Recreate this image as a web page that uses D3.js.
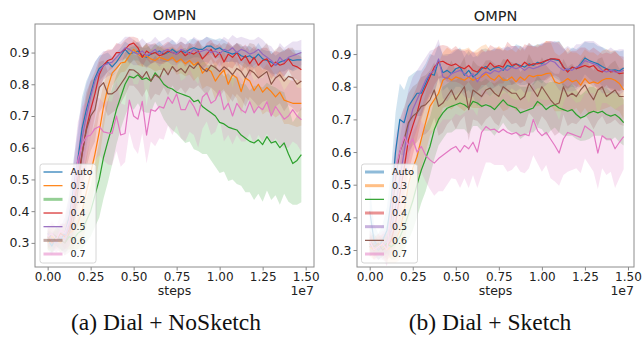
<!DOCTYPE html>
<html>
<head>
<meta charset="utf-8">
<script src="https://cdn.jsdelivr.net/npm/d3@7"></script>
<style>
body { margin: 0; background: #fff; }
svg { display: block; font-family: 'DejaVu Sans', sans-serif; }
</style>
</head>
<body>
<div id="chart"></div>
<script>
// steps, in units of 1e7
var steps = [0,0.025,0.05,0.075,0.1,0.125,0.15,0.175,0.2,0.225,
	0.25,0.275,0.3,0.325,0.35,0.375,0.4,0.425,0.45,0.475,
	0.5,0.525,0.55,0.575,0.6,0.625,0.65,0.675,0.7,0.725,
	0.75,0.775,0.8,0.825,0.85,0.875,0.9,0.925,0.95,0.975,
	1,1.025,1.05,1.075,1.1,1.125,1.15,1.175,1.2,1.225,
	1.25,1.275,1.3,1.325,1.35,1.375,1.4,1.425,1.45,1.475];

var labels = ['Auto', '0.3', '0.2', '0.4', '0.5', '0.6', '0.7'];
var xTicks = [0, 0.25, 0.5, 0.75, 1, 1.25, 1.5];
var yTicks = [0.3, 0.4, 0.5, 0.6, 0.7, 0.8, 0.9];
var captions = ['(a) Dial + NoSketch', '(b) Dial + Sketch'];

// ---- (a) NoSketch : mean curves ----
var autoL = [0.31,0.29,0.32,0.31,0.33,0.38,0.47,0.56,0.66,0.72,
	0.77,0.82,0.85,0.86,0.87,0.855,0.87,0.89,0.91,0.895,
	0.90,0.905,0.89,0.885,0.895,0.90,0.905,0.895,0.90,0.91,
	0.90,0.905,0.90,0.91,0.915,0.91,0.91,0.92,0.92,0.91,
	0.915,0.905,0.90,0.895,0.90,0.89,0.885,0.89,0.88,0.895,
	0.88,0.875,0.87,0.86,0.87,0.875,0.88,0.875,0.877,0.877];
var r03L = [0.30,0.32,0.31,0.30,0.32,0.33,0.34,0.36,0.40,0.46,
	0.52,0.58,0.65,0.73,0.79,0.835,0.85,0.867,0.87,0.89,
	0.91,0.895,0.885,0.89,0.88,0.875,0.885,0.88,0.875,0.885,
	0.87,0.88,0.865,0.875,0.86,0.87,0.835,0.85,0.84,0.81,
	0.83,0.845,0.80,0.83,0.82,0.777,0.82,0.81,0.78,0.80,
	0.775,0.79,0.777,0.76,0.775,0.75,0.745,0.74,0.74,0.74];
var r02L = [0.31,0.30,0.32,0.31,0.30,0.32,0.31,0.33,0.34,0.37,
	0.40,0.45,0.50,0.57,0.62,0.667,0.72,0.76,0.80,0.825,
	0.82,0.83,0.815,0.82,0.81,0.836,0.82,0.80,0.79,0.785,
	0.775,0.77,0.765,0.76,0.745,0.75,0.73,0.72,0.71,0.70,
	0.68,0.675,0.665,0.66,0.656,0.64,0.63,0.62,0.615,0.625,
	0.61,0.635,0.615,0.62,0.60,0.615,0.58,0.55,0.56,0.578];
var r04L = [0.32,0.30,0.31,0.33,0.32,0.34,0.40,0.50,0.58,0.66,
	0.72,0.77,0.83,0.86,0.875,0.88,0.90,0.90,0.91,0.925,
	0.93,0.915,0.885,0.905,0.895,0.90,0.89,0.895,0.905,0.90,
	0.895,0.905,0.89,0.90,0.895,0.905,0.88,0.895,0.91,0.885,
	0.90,0.87,0.895,0.885,0.90,0.875,0.89,0.865,0.885,0.86,
	0.875,0.88,0.855,0.87,0.86,0.865,0.88,0.86,0.855,0.846];
var r05L = [0.33,0.31,0.30,0.32,0.31,0.36,0.44,0.53,0.63,0.70,
	0.76,0.81,0.84,0.86,0.865,0.87,0.885,0.90,0.915,0.91,
	0.90,0.895,0.905,0.89,0.90,0.91,0.895,0.905,0.91,0.90,
	0.895,0.91,0.905,0.895,0.91,0.90,0.905,0.91,0.90,0.905,
	0.895,0.91,0.905,0.915,0.90,0.91,0.905,0.895,0.90,0.91,
	0.895,0.885,0.875,0.86,0.885,0.87,0.885,0.89,0.895,0.90];
var r06L = [0.31,0.33,0.32,0.31,0.30,0.33,0.37,0.46,0.58,0.656,
	0.70,0.72,0.79,0.805,0.77,0.77,0.78,0.80,0.82,0.846,
	0.845,0.835,0.82,0.84,0.81,0.83,0.82,0.85,0.83,0.856,
	0.84,0.85,0.836,0.86,0.85,0.867,0.85,0.84,0.86,0.852,
	0.84,0.855,0.845,0.83,0.85,0.84,0.82,0.845,0.836,0.82,
	0.83,0.84,0.80,0.82,0.83,0.81,0.825,0.82,0.80,0.81];
var r07L = [0.32,0.33,0.31,0.34,0.33,0.37,0.45,0.56,0.61,0.635,
	0.64,0.66,0.667,0.65,0.647,0.645,0.70,0.64,0.645,0.75,
	0.70,0.69,0.746,0.64,0.72,0.715,0.73,0.725,0.76,0.74,
	0.77,0.72,0.72,0.75,0.73,0.70,0.76,0.773,0.74,0.75,
	0.78,0.72,0.74,0.70,0.74,0.72,0.71,0.745,0.71,0.73,
	0.72,0.745,0.70,0.73,0.71,0.69,0.70,0.72,0.70,0.688];

// ---- (a) NoSketch : spread (std) ----
var sdAutoL = [0.03,0.03,0.03,0.04,0.05,0.07,0.09,0.10,0.10,0.09,
	0.07,0.05,0.04,0.035,0.03,0.03,0.03,0.025,0.025,0.03,
	0.025,0.03,0.025,0.03,0.03,0.025,0.03,0.025,0.03,0.03,
	0.025,0.03,0.025,0.03,0.03,0.025,0.03,0.03,0.025,0.03,
	0.03,0.035,0.03,0.025,0.03,0.03,0.035,0.03,0.03,0.035,
	0.03,0.03,0.035,0.03,0.03,0.035,0.03,0.035,0.03,0.03];
var sd03L = [0.03,0.03,0.03,0.03,0.04,0.05,0.06,0.08,0.10,0.11,
	0.11,0.10,0.09,0.07,0.05,0.04,0.035,0.03,0.03,0.03,
	0.03,0.035,0.03,0.035,0.03,0.035,0.04,0.035,0.04,0.035,
	0.04,0.045,0.04,0.045,0.05,0.045,0.05,0.055,0.05,0.06,
	0.055,0.06,0.065,0.06,0.065,0.07,0.06,0.065,0.07,0.065,
	0.07,0.075,0.07,0.065,0.07,0.075,0.07,0.07,0.075,0.07];
var sd02L = [0.03,0.03,0.03,0.03,0.03,0.04,0.04,0.05,0.06,0.07,
	0.08,0.10,0.12,0.13,0.13,0.12,0.11,0.10,0.10,0.09,
	0.10,0.09,0.10,0.11,0.10,0.09,0.10,0.11,0.12,0.13,
	0.13,0.14,0.15,0.14,0.15,0.16,0.15,0.14,0.15,0.16,
	0.16,0.15,0.17,0.16,0.17,0.16,0.17,0.16,0.18,0.17,
	0.18,0.17,0.18,0.17,0.18,0.16,0.15,0.13,0.14,0.15];
var sd04L = [0.03,0.03,0.03,0.03,0.04,0.05,0.07,0.09,0.10,0.10,
	0.09,0.07,0.05,0.04,0.035,0.03,0.03,0.025,0.03,0.025,
	0.02,0.03,0.03,0.025,0.03,0.03,0.025,0.03,0.03,0.025,
	0.03,0.03,0.035,0.03,0.03,0.035,0.03,0.035,0.03,0.035,
	0.03,0.035,0.04,0.035,0.03,0.04,0.035,0.04,0.035,0.04,
	0.04,0.035,0.04,0.035,0.04,0.04,0.035,0.04,0.04,0.04];
var sd05L = [0.03,0.03,0.03,0.04,0.05,0.07,0.10,0.11,0.11,0.10,
	0.08,0.06,0.05,0.045,0.04,0.04,0.04,0.035,0.035,0.04,
	0.04,0.035,0.04,0.04,0.035,0.04,0.04,0.035,0.04,0.04,
	0.035,0.04,0.04,0.035,0.04,0.04,0.035,0.04,0.04,0.035,
	0.04,0.04,0.035,0.04,0.045,0.04,0.04,0.045,0.04,0.04,
	0.045,0.04,0.045,0.04,0.045,0.045,0.04,0.045,0.04,0.04];
var sd06L = [0.03,0.03,0.03,0.03,0.04,0.06,0.09,0.11,0.12,0.12,
	0.11,0.10,0.08,0.07,0.07,0.06,0.06,0.06,0.055,0.05,
	0.05,0.055,0.06,0.055,0.06,0.06,0.055,0.06,0.065,0.06,
	0.065,0.06,0.065,0.07,0.065,0.07,0.07,0.075,0.07,0.075,
	0.08,0.075,0.08,0.085,0.08,0.085,0.09,0.085,0.09,0.09,
	0.085,0.09,0.095,0.09,0.09,0.095,0.09,0.095,0.09,0.09];
var sd07L = [0.03,0.04,0.04,0.05,0.06,0.08,0.10,0.12,0.12,0.11,
	0.10,0.10,0.09,0.09,0.10,0.10,0.11,0.10,0.09,0.10,
	0.10,0.11,0.10,0.09,0.10,0.11,0.10,0.10,0.09,0.10,
	0.10,0.09,0.10,0.10,0.09,0.10,0.10,0.09,0.10,0.10,
	0.09,0.10,0.10,0.09,0.10,0.10,0.09,0.10,0.10,0.09,
	0.10,0.10,0.09,0.10,0.10,0.09,0.10,0.10,0.09,0.10];

// ---- (b) Sketch : mean curves ----
var autoR = [0.42,0.33,0.31,0.33,0.36,0.45,0.60,0.70,0.69,0.74,
	0.76,0.78,0.78,0.81,0.84,0.835,0.88,0.843,0.85,0.84,
	0.855,0.86,0.835,0.85,0.83,0.84,0.855,0.862,0.85,0.858,
	0.86,0.85,0.865,0.86,0.87,0.865,0.86,0.87,0.865,0.875,
	0.87,0.88,0.885,0.883,0.88,0.86,0.85,0.86,0.855,0.87,
	0.888,0.88,0.875,0.87,0.862,0.855,0.85,0.852,0.848,0.857];
var r03R = [0.31,0.30,0.32,0.31,0.30,0.31,0.33,0.36,0.42,0.50,
	0.55,0.586,0.64,0.69,0.74,0.76,0.78,0.82,0.83,0.82,
	0.83,0.825,0.82,0.83,0.82,0.825,0.83,0.84,0.827,0.82,
	0.835,0.82,0.82,0.83,0.815,0.83,0.82,0.835,0.83,0.835,
	0.835,0.84,0.842,0.815,0.81,0.815,0.825,0.815,0.82,0.805,
	0.825,0.81,0.815,0.81,0.82,0.825,0.825,0.82,0.81,0.79];
var r02R = [0.31,0.32,0.30,0.31,0.32,0.31,0.32,0.34,0.37,0.41,
	0.45,0.50,0.545,0.58,0.617,0.668,0.70,0.72,0.734,0.74,
	0.745,0.75,0.745,0.735,0.755,0.75,0.74,0.745,0.74,0.73,
	0.745,0.76,0.745,0.74,0.735,0.72,0.725,0.73,0.735,0.755,
	0.745,0.73,0.74,0.745,0.735,0.73,0.725,0.73,0.715,0.704,
	0.71,0.72,0.725,0.72,0.725,0.715,0.71,0.715,0.705,0.69];
var r04R = [0.32,0.30,0.31,0.32,0.31,0.33,0.38,0.47,0.55,0.637,
	0.68,0.72,0.77,0.80,0.83,0.86,0.875,0.878,0.87,0.865,
	0.87,0.86,0.855,0.865,0.85,0.845,0.86,0.855,0.873,0.86,
	0.865,0.86,0.883,0.865,0.87,0.86,0.875,0.865,0.87,0.87,
	0.875,0.88,0.885,0.885,0.883,0.86,0.845,0.86,0.855,0.86,
	0.865,0.86,0.865,0.85,0.845,0.855,0.845,0.848,0.84,0.842];
var r05R = [0.31,0.32,0.30,0.31,0.33,0.36,0.43,0.52,0.60,0.68,
	0.73,0.76,0.79,0.82,0.84,0.85,0.885,0.83,0.825,0.84,
	0.845,0.85,0.84,0.83,0.84,0.815,0.835,0.845,0.84,0.85,
	0.845,0.855,0.85,0.86,0.855,0.86,0.85,0.86,0.855,0.86,
	0.865,0.87,0.88,0.875,0.86,0.85,0.855,0.85,0.86,0.865,
	0.88,0.875,0.87,0.865,0.85,0.845,0.85,0.845,0.845,0.85];
var r06R = [0.33,0.31,0.32,0.30,0.31,0.40,0.52,0.60,0.637,0.69,
	0.71,0.72,0.74,0.745,0.76,0.79,0.74,0.75,0.77,0.79,
	0.76,0.78,0.80,0.73,0.79,0.78,0.77,0.79,0.796,0.78,
	0.77,0.80,0.79,0.78,0.78,0.76,0.77,0.81,0.79,0.77,
	0.80,0.78,0.76,0.745,0.75,0.80,0.77,0.78,0.77,0.79,
	0.806,0.78,0.76,0.79,0.80,0.77,0.78,0.79,0.77,0.77];
var r07R = [0.33,0.30,0.31,0.32,0.30,0.42,0.55,0.60,0.647,0.62,
	0.64,0.60,0.617,0.59,0.576,0.566,0.58,0.59,0.60,0.61,
	0.617,0.60,0.62,0.61,0.63,0.60,0.66,0.678,0.668,0.67,
	0.66,0.67,0.66,0.655,0.66,0.65,0.655,0.65,0.70,0.665,
	0.65,0.66,0.64,0.62,0.597,0.64,0.66,0.655,0.65,0.645,
	0.68,0.67,0.66,0.597,0.65,0.64,0.64,0.61,0.63,0.647];

// ---- (b) Sketch : spread (std) ----
var sdAutoR = [0.08,0.05,0.04,0.05,0.07,0.10,0.12,0.11,0.10,0.09,
	0.08,0.07,0.07,0.06,0.06,0.06,0.05,0.055,0.05,0.06,
	0.055,0.06,0.055,0.06,0.06,0.055,0.06,0.055,0.06,0.06,
	0.055,0.06,0.06,0.055,0.06,0.06,0.055,0.06,0.06,0.055,
	0.06,0.055,0.05,0.055,0.06,0.06,0.055,0.06,0.06,0.055,
	0.05,0.055,0.06,0.055,0.06,0.06,0.055,0.06,0.06,0.055];
var sd03R = [0.03,0.03,0.03,0.03,0.04,0.05,0.07,0.09,0.10,0.11,
	0.11,0.10,0.09,0.09,0.09,0.09,0.09,0.085,0.09,0.09,
	0.085,0.09,0.095,0.09,0.085,0.09,0.095,0.09,0.085,0.09,
	0.09,0.095,0.09,0.085,0.09,0.095,0.09,0.10,0.09,0.095,
	0.09,0.10,0.095,0.09,0.085,0.09,0.095,0.09,0.085,0.09,
	0.09,0.095,0.09,0.085,0.09,0.09,0.085,0.09,0.085,0.09];
var sd02R = [0.03,0.03,0.03,0.03,0.03,0.04,0.05,0.06,0.07,0.08,
	0.09,0.10,0.10,0.10,0.09,0.09,0.08,0.08,0.075,0.08,
	0.075,0.08,0.075,0.08,0.075,0.07,0.075,0.08,0.075,0.08,
	0.075,0.07,0.075,0.08,0.075,0.08,0.075,0.07,0.075,0.08,
	0.075,0.08,0.075,0.07,0.075,0.08,0.075,0.08,0.075,0.07,
	0.075,0.08,0.075,0.07,0.075,0.08,0.075,0.07,0.075,0.07];
var sd04R = [0.03,0.03,0.03,0.03,0.04,0.05,0.07,0.09,0.10,0.10,
	0.09,0.08,0.07,0.06,0.06,0.055,0.05,0.05,0.055,0.05,
	0.055,0.05,0.055,0.05,0.055,0.06,0.055,0.05,0.055,0.06,
	0.055,0.05,0.055,0.06,0.055,0.05,0.055,0.06,0.055,0.05,
	0.055,0.06,0.055,0.05,0.055,0.06,0.055,0.05,0.055,0.06,
	0.055,0.05,0.055,0.06,0.055,0.05,0.055,0.06,0.055,0.05];
var sd05R = [0.03,0.03,0.03,0.04,0.05,0.07,0.10,0.12,0.12,0.11,
	0.10,0.09,0.08,0.07,0.07,0.065,0.06,0.065,0.07,0.065,
	0.07,0.065,0.07,0.065,0.07,0.075,0.07,0.065,0.07,0.065,
	0.07,0.065,0.07,0.065,0.07,0.065,0.07,0.075,0.07,0.065,
	0.07,0.065,0.06,0.065,0.07,0.065,0.07,0.065,0.07,0.065,
	0.06,0.065,0.07,0.065,0.07,0.065,0.07,0.065,0.07,0.065];
var sd06R = [0.03,0.03,0.03,0.03,0.05,0.08,0.10,0.10,0.10,0.09,
	0.09,0.09,0.09,0.09,0.09,0.085,0.09,0.09,0.085,0.09,
	0.09,0.085,0.09,0.095,0.09,0.085,0.09,0.09,0.085,0.09,
	0.09,0.085,0.09,0.095,0.09,0.085,0.09,0.09,0.085,0.09,
	0.09,0.085,0.09,0.095,0.09,0.085,0.09,0.09,0.085,0.09,
	0.09,0.085,0.09,0.095,0.09,0.085,0.09,0.09,0.085,0.09];
var sd07R = [0.03,0.03,0.04,0.04,0.05,0.08,0.10,0.10,0.09,0.08,
	0.08,0.07,0.08,0.08,0.09,0.10,0.10,0.11,0.10,0.09,
	0.10,0.11,0.10,0.12,0.10,0.11,0.13,0.11,0.10,0.11,
	0.10,0.11,0.12,0.11,0.10,0.11,0.12,0.10,0.11,0.10,
	0.11,0.10,0.12,0.11,0.10,0.11,0.12,0.11,0.10,0.11,
	0.10,0.11,0.12,0.11,0.10,0.11,0.10,0.12,0.11,0.10];

// styles (tab10 palette)
var colors = ['#1f77b4', '#ff7f0e', '#2ca02c', '#d62728', '#9467bd', '#8c564b', '#e377c2'];
var bandAlpha = 0.2;

var svg = d3.select('#chart').append('svg')
	.attr('width', 642)
	.attr('height', 344);

function drawPanel(p, idx) {
	var x = d3.scaleLinear().domain(p.xDomain).range([p.left, p.right]);
	var y = d3.scaleLinear().domain(p.yDomain).range([p.bottom, p.top]);

	var g = svg.append('g');

	g.append('clipPath').attr('id', 'clip' + idx)
		.append('rect')
			.attr('x', p.left).attr('y', p.top)
			.attr('width', p.right - p.left).attr('height', p.bottom - p.top);

	var plot = g.append('g').attr('clip-path', 'url(#clip' + idx + ')');

	var area = d3.area()
		.x(function(d) { return x(d.s); })
		.y0(function(d) { return y(d.m - d.sd); })
		.y1(function(d) { return y(d.m + d.sd); });

	var line = d3.line()
		.x(function(d) { return x(d.s); })
		.y(function(d) { return y(d.m); });

	var series = p.means.map(function(m, i) {
		return steps.map(function(s, j) {
			return {s: s, m: m[j], sd: p.sds[i][j]};
		});
	});

	// bands first, then the mean lines on top
	plot.selectAll('.band')
		.data(series)
		.enter()
		.append('path')
			.attr('class', 'band')
			.attr('d', area)
			.attr('fill', function(d, i) { return colors[i]; })
			.attr('fill-opacity', bandAlpha)
			.attr('stroke', 'none');

	plot.selectAll('.mean')
		.data(series)
		.enter()
		.append('path')
			.attr('class', 'mean')
			.attr('d', line)
			.attr('fill', 'none')
			.attr('stroke', function(d, i) { return colors[i]; })
			.attr('stroke-width', 1.2)
			.attr('stroke-linejoin', 'round');

	// axes
	var yAxis = d3.axisLeft(y).tickValues(yTicks).tickSize(3.5).tickPadding(2)
		.tickFormat(d3.format('.1f'));
	var xAxis = d3.axisBottom(x).tickValues(xTicks).tickSize(3.5).tickPadding(2)
		.tickFormat(d3.format('.2f'));

	var ya = g.append('g').attr('transform', 'translate(' + p.left + ',0)').call(yAxis);
	var xa = g.append('g').attr('transform', 'translate(0,' + p.bottom + ')').call(xAxis);
	[ya, xa].forEach(function(a) {
		a.select('.domain').remove();
		a.selectAll('.tick line').attr('stroke', '#888');
		a.selectAll('.tick text')
			.style('font-family', "'DejaVu Sans', sans-serif")
			.attr('fill', '#222');
	});
	ya.selectAll('.tick text').style('font-size', '12.5px');
	xa.selectAll('.tick text').style('font-size', '12px');

	// frame
	g.append('rect')
		.attr('x', p.left).attr('y', p.top)
		.attr('width', p.right - p.left).attr('height', p.bottom - p.top)
		.attr('fill', 'none')
		.attr('stroke', '#8c8c8c')
		.attr('stroke-width', 1);

	var cx = (p.left + p.right) / 2;
	g.append('text')
		.attr('x', cx).attr('y', p.top - 4)
		.attr('text-anchor', 'middle')
		.style('font-size', '14.5px')
		.attr('fill', '#222')
		.text('OMPN');

	g.append('text')
		.attr('x', cx).attr('y', 295)
		.attr('text-anchor', 'middle')
		.style('font-size', '12.5px')
		.attr('fill', '#222')
		.text('steps');

	g.append('text')
		.attr('x', p.right).attr('y', 295)
		.attr('text-anchor', 'end')
		.style('font-size', '12.5px')
		.attr('fill', '#222')
		.text('1e7');

	// legend
	var lg = g.append('g').attr('transform', 'translate(' + p.legendX + ',' + p.legendY + ')');
	lg.append('rect')
		.attr('width', 56).attr('height', 99)
		.attr('rx', 2.5)
		.attr('fill', '#fff').attr('fill-opacity', 0.8)
		.attr('stroke', '#ccc').attr('stroke-width', 0.8);

	var rows = lg.selectAll('.lrow')
		.data(labels)
		.enter()
		.append('g')
			.attr('class', 'lrow')
			.attr('transform', function(d, i) { return 'translate(0,' + (8 + i * 13.67) + ')'; });

	rows.append('line')
		.attr('x1', 3.5).attr('x2', 22.5)
		.attr('stroke', function(d, i) { return colors[i]; })
		.attr('stroke-width', function(d, i) { return p.thick[i] ? 3 : 1.2; })
		.attr('stroke-opacity', function(d, i) { return p.thick[i] ? 0.5 : 1; });

	rows.append('text')
		.attr('x', 30.5).attr('dy', '0.35em')
		.style('font-size', '9.5px')
		.attr('fill', '#222')
		.text(function(d) { return d; });

	svg.append('text')
		.attr('x', p.captionX).attr('y', 330)
		.attr('text-anchor', 'middle')
		.style('font-family', "'Liberation Serif', 'Times New Roman', serif")
		.style('font-size', '23.5px')
		.attr('fill', '#111')
		.text(p.caption);
}

var panels = [
	{
		left: 35, right: 314, top: 24, bottom: 267,
		xDomain: [-0.0735, 1.5485], yDomain: [0.224, 0.990],
		means: [autoL, r03L, r02L, r04L, r05L, r06L, r07L],
		sds: [sdAutoL, sd03L, sd02L, sd04L, sd05L, sd06L, sd07L],
		thick: [false, false, true, false, false, true, true],
		legendX: 40, legendY: 164,
		caption: captions[0], captionX: 166
	},
	{
		left: 357, right: 634, top: 25, bottom: 267,
		xDomain: [-0.0737, 1.535], yDomain: [0.248, 0.989],
		means: [autoR, r03R, r02R, r04R, r05R, r06R, r07R],
		sds: [sdAutoR, sd03R, sd02R, sd04R, sd05R, sd06R, sd07R],
		thick: [true, true, false, true, true, false, true],
		legendX: 361.5, legendY: 164,
		caption: captions[1], captionX: 490
	}
];

panels.forEach(drawPanel);
</script>
</body>
</html>
